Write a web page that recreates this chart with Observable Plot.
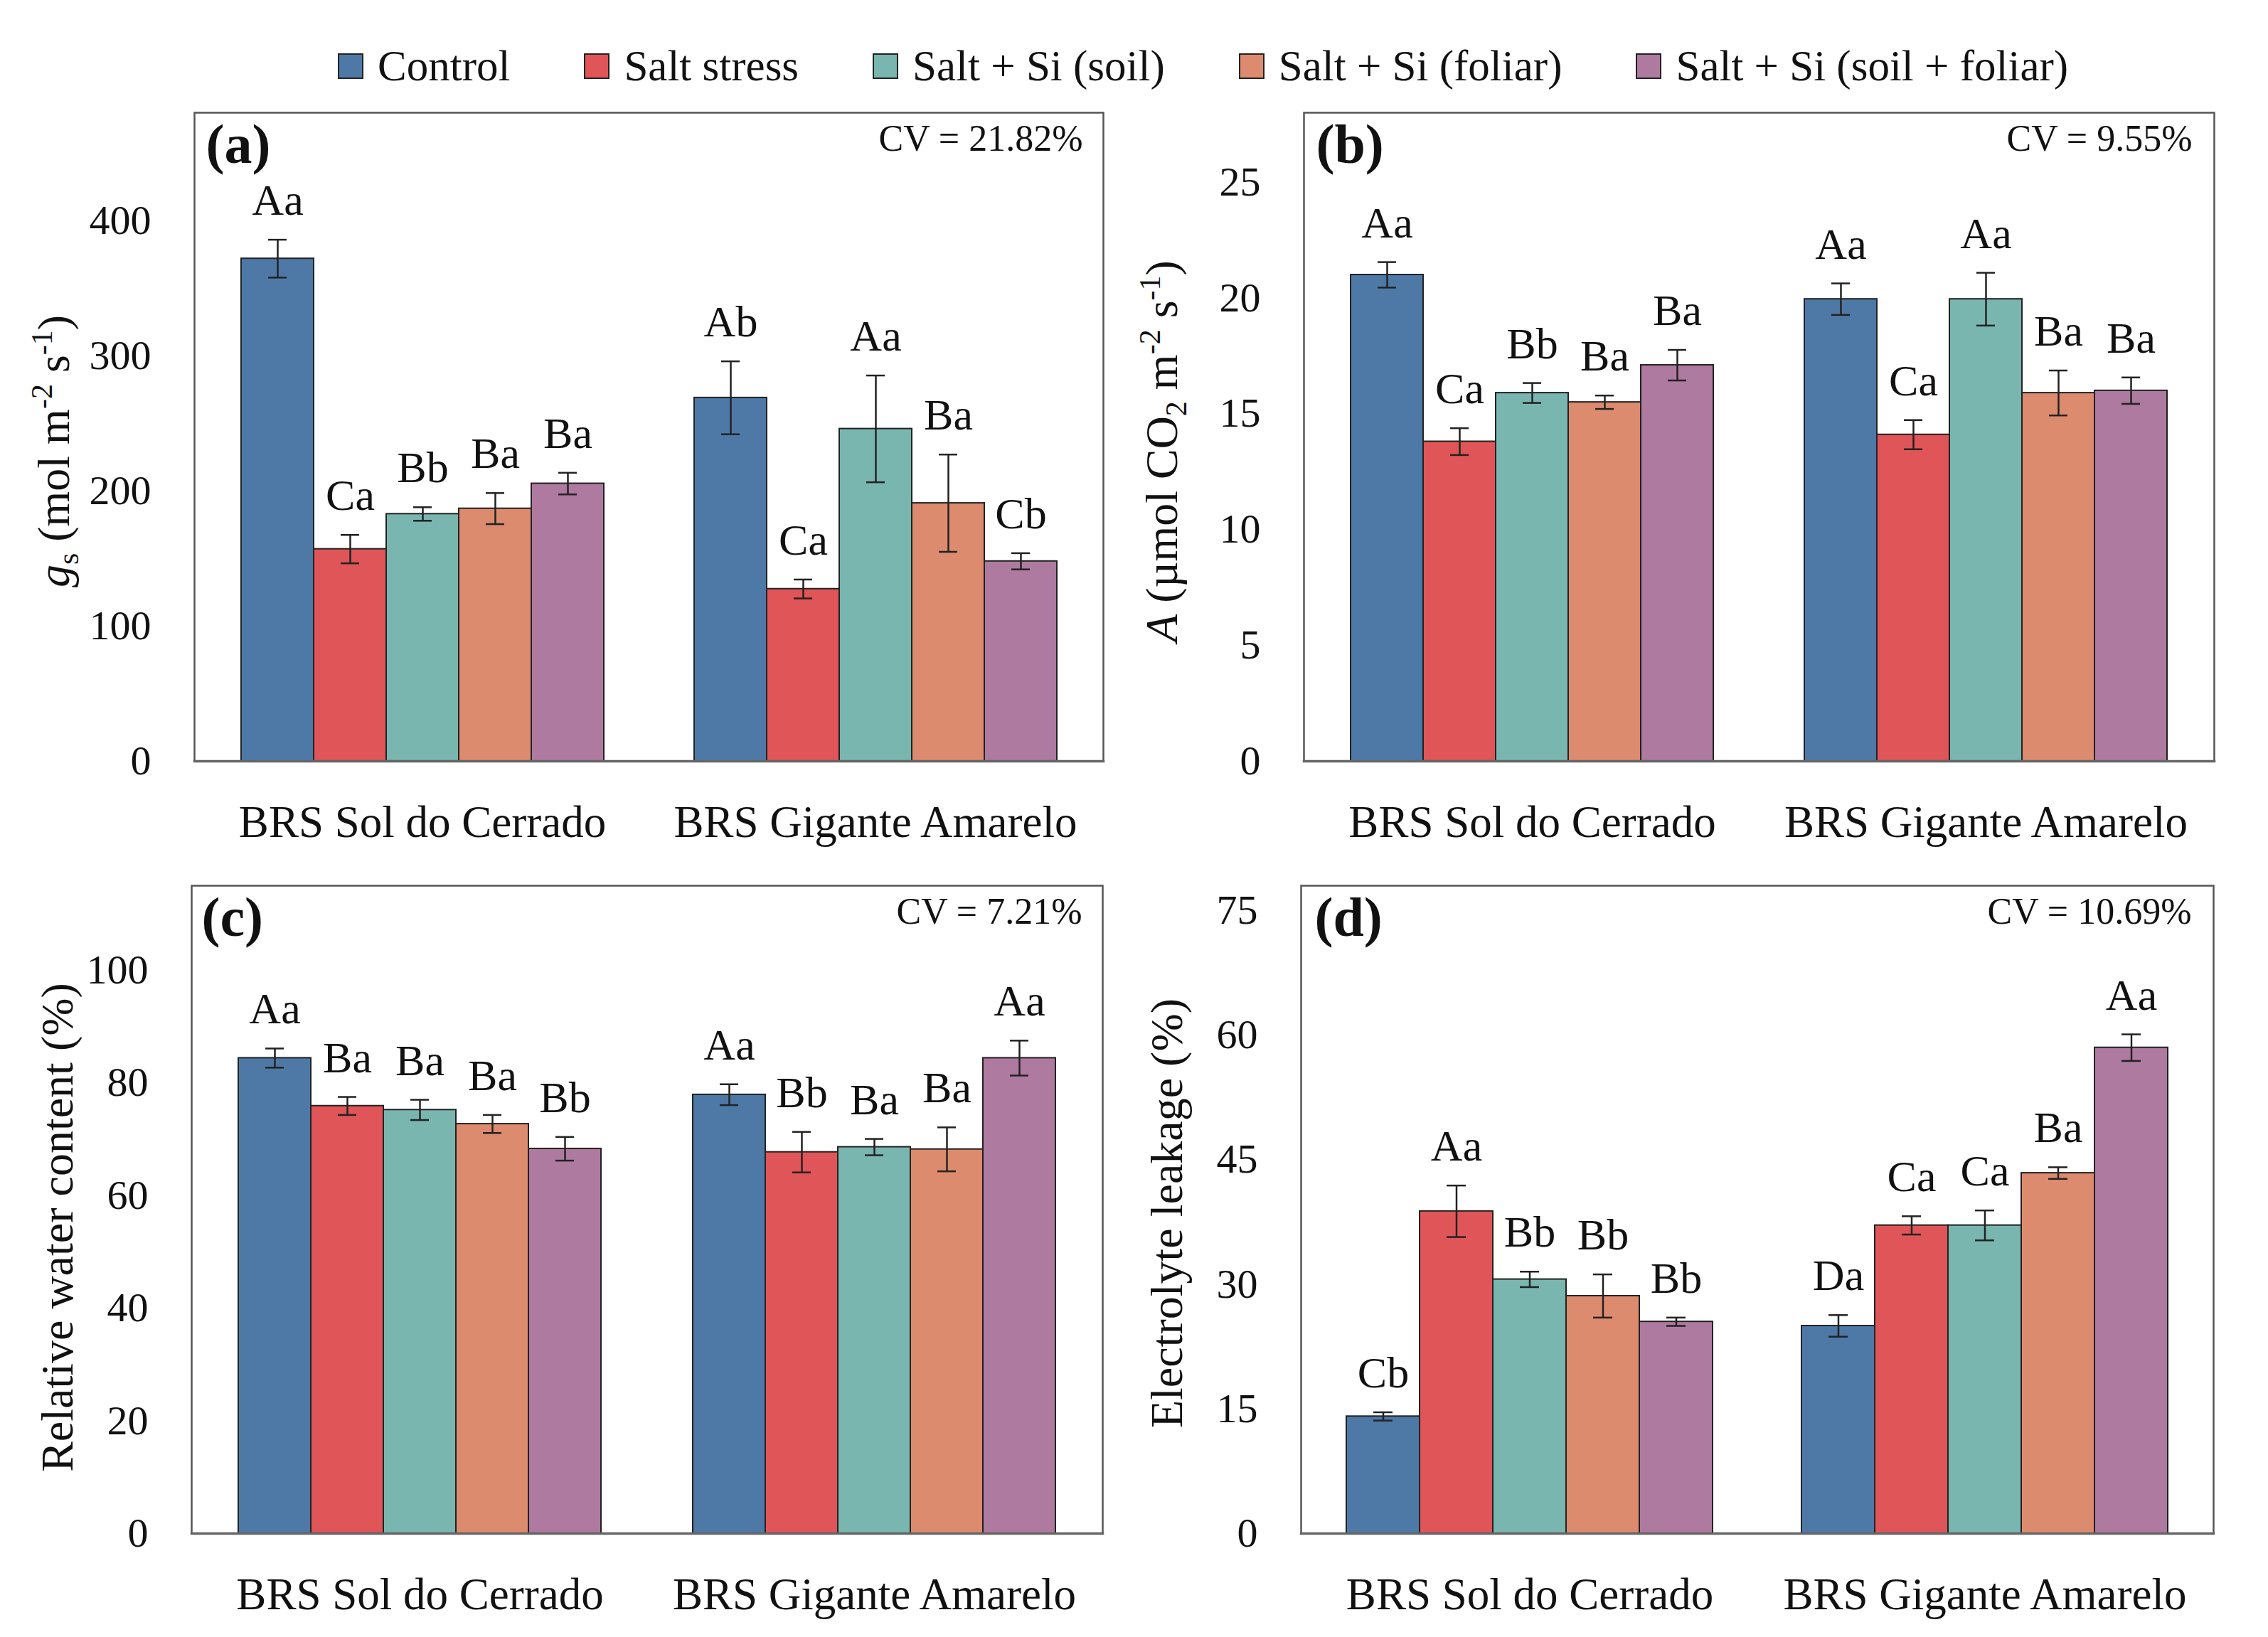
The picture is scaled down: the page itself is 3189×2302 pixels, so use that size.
<!DOCTYPE html>
<html>
<head>
<meta charset="utf-8">
<script src="https://cdn.jsdelivr.net/npm/d3@7"></script>
<script src="https://cdn.jsdelivr.net/npm/@observablehq/plot@0.6"></script>
<style>
  html, body { margin: 0; padding: 0; background: #fff; }
  #root { position: relative; width: 3189px; height: 2302px; background: #fff; font-family: "Liberation Serif", "DejaVu Serif", serif; color: #111; }
  #legend { position: absolute; left: 475px; top: 62px; display: flex; gap: 104px; align-items: center; font-size: 61px; line-height: 1; }
  .item { display: flex; align-items: center; gap: 20px; white-space: nowrap; }
  .sw { width: 36px; height: 36px; border: 2.5px solid #222; box-sizing: border-box; }
  .panel { position: absolute; }
</style>
</head>
<body>
<div id="root">
  <div id="legend"></div>
</div>
<script>
// ---------------- data ----------------
const cultivars = ["BRS Sol do Cerrado", "BRS Gigante Amarelo"];
const treatments = ["Control", "Salt stress", "Salt + Si (soil)", "Salt + Si (foliar)", "Salt + Si (soil + foliar)"];
const treatmentColors = ["#4E79A7", "#E05558", "#79B6AF", "#DD8B6E", "#AE7AA0"];

// (a) stomatal conductance, gs (mol m-2 s-1): 5 treatments x 2 cultivars
const gsMean = [372, 157, 183, 187, 205.5, 269, 127.5, 246, 191, 148];
const gsErr = [14, 10.5, 5, 11.5, 8, 27, 7, 39.5, 36, 6];
const gsLetters = ["Aa", "Ca", "Bb", "Ba", "Ba", "Ab", "Ca", "Aa", "Ba", "Cb"];
const gsTicks = [0, 100, 200, 300, 400];

// (b) net photosynthesis, A (umol CO2 m-2 s-1)
const aMean = [21.0, 13.8, 15.9, 15.5, 17.1, 19.95, 14.1, 19.95, 15.9, 16.0];
const aErr = [0.55, 0.58, 0.43, 0.29, 0.66, 0.68, 0.63, 1.14, 0.97, 0.57];
const aLetters = ["Aa", "Ca", "Bb", "Ba", "Ba", "Aa", "Ca", "Aa", "Ba", "Ba"];
const aTicks = [0, 5, 10, 15, 20, 25];

// (c) relative water content (%)
const rwcMean = [84.4, 75.9, 75.2, 72.7, 68.3, 77.9, 67.7, 68.6, 68.2, 84.4];
const rwcErr = [1.7, 1.6, 1.8, 1.6, 2.1, 1.85, 3.6, 1.45, 3.9, 3.1];
const rwcLetters = ["Aa", "Ba", "Ba", "Ba", "Bb", "Aa", "Bb", "Ba", "Ba", "Aa"];
const rwcTicks = [0, 20, 40, 60, 80, 100];

// (d) electrolyte leakage (%)
const elMean = [14.1, 38.8, 30.6, 28.6, 25.5, 25.0, 37.1, 37.1, 43.4, 58.5];
const elErr = [0.5, 3.1, 0.93, 2.6, 0.5, 1.3, 1.1, 1.8, 0.7, 1.6];
const elLetters = ["Cb", "Aa", "Bb", "Bb", "Bb", "Da", "Ca", "Ca", "Ba", "Aa"];
const elTicks = [0, 15, 30, 45, 60, 75];

// ---------------- legend ----------------
const legend = document.getElementById("legend");
treatments.forEach((t, i) => {
  const it = document.createElement("div");
  it.className = "item";
  const sw = document.createElement("div");
  sw.className = "sw";
  sw.style.background = treatmentColors[i];
  const tx = document.createElement("span");
  tx.textContent = t;
  it.appendChild(sw); it.appendChild(tx);
  legend.appendChild(it);
});

// ---------------- panels ----------------
const FONT = '"Liberation Serif", "DejaVu Serif", serif';
const OUTER = 64; // the outer band padding between the frame and the first/last bar group

function makePanel(cfg) {
  const rows = cfg.mean.map((m, i) => ({
    cultivar: cultivars[Math.floor(i / 5)],
    treatment: treatments[i % 5],
    mean: m,
    lo: m - cfg.err[i],
    hi: m + cfg.err[i],
    letter: cfg.letters[i]
  }));
  const svg = Plot.plot({
    width: cfg.width, height: cfg.height,
    marginLeft: cfg.ml, marginRight: cfg.mr, marginTop: cfg.mt, marginBottom: cfg.mb,
    style: {fontFamily: FONT, fontSize: "58px", color: "#111", background: "transparent", overflow: "visible"},
    fx: {domain: cultivars, paddingInner: 0.195, paddingOuter: 0.1, label: null, axis: "bottom", tickSize: 0, tickPadding: 62},
    x: {domain: treatments, padding: 0, axis: null},
    y: {domain: cfg.domain, ticks: cfg.ticks, tickSize: 0, tickPadding: 61 + OUTER, label: null},
    color: {domain: treatments, range: treatmentColors},
    marks: [
      Plot.barY(rows, {fx: "cultivar", x: "treatment", y: "mean", fill: "treatment", stroke: "#222", strokeWidth: 2}),
      Plot.ruleX(rows, {fx: "cultivar", x: "treatment", y1: "lo", y2: "hi", stroke: "#222", strokeWidth: 2.5}),
      Plot.tickY(rows, {fx: "cultivar", x: "treatment", y: "lo", stroke: "#222", strokeWidth: 2.5, insetLeft: 38, insetRight: 38}),
      Plot.tickY(rows, {fx: "cultivar", x: "treatment", y: "hi", stroke: "#222", strokeWidth: 2.5, insetLeft: 38, insetRight: 38}),
      Plot.text(rows, {fx: "cultivar", x: "treatment", y: "hi", text: "letter", lineAnchor: "bottom", dy: -35, fontSize: 62, fill: "#111"}),
      Plot.frame({facet: "super", stroke: "#555", strokeWidth: 2.5, insetLeft: -OUTER, insetRight: -OUTER}),
      Plot.frame({facet: "super", anchor: "bottom", stroke: "#666", strokeWidth: 3.5, insetLeft: -OUTER, insetRight: -OUTER}),
      Plot.text([cfg.tag], {facet: "super", frameAnchor: "top-left", textAnchor: "start", lineAnchor: "top", dx: cfg.tagDx, dy: 15, fontSize: 78, fontWeight: "bold", fill: "#111"}),
      Plot.text([cfg.cv], {facet: "super", frameAnchor: "top-right", textAnchor: "end", lineAnchor: "top", dx: cfg.cvDx, dy: 17, fontSize: 52, fill: "#111"}),
      Plot.text([cfg.label], {facet: "super", frameAnchor: "left", rotate: -90, textAnchor: "middle", lineAnchor: "top", dx: cfg.labelDx, dy: cfg.labelDy, fontSize: 64, fill: "#111"})
    ]
  });
  // larger category labels on the fx axis
  d3.select(svg).selectAll('[aria-label="fx-axis tick label"]').attr("font-size", 63)
    .selectAll("text").attr("font-size", 63);
  // rich formatting of the axis title (italics, sub/superscripts)
  if (cfg.labelHTML) {
    d3.select(svg).selectAll("text").filter(function () { return this.textContent === cfg.label; })
      .html(cfg.labelHTML);
  }
  svg.classList.add("panel");
  svg.style.left = cfg.left + "px";
  svg.style.top = cfg.top + "px";
  document.getElementById("root").appendChild(svg);
}

const SUP = (s) => `<tspan dy="-24" font-size="42">${s}</tspan><tspan dy="24"> </tspan>`;
const SUPEND = (s) => `<tspan dy="-24" font-size="42">${s}</tspan><tspan dy="24">)</tspan>`;
const SUB = (s, after) => `<tspan dy="13" font-size="42">${s}</tspan><tspan dy="-13">${after}</tspan>`;

makePanel({
  mean: gsMean, err: gsErr, letters: gsLetters, ticks: gsTicks, domain: [0, 480],
  tag: "(a)", cv: "CV = 21.82%",
  label: "gs (mol m-2 s-1)",
  labelHTML: `<tspan font-style="italic">g</tspan>${SUB("s", " (mol m")}${SUP("-2")}s${SUPEND("-1")}`,
  left: 0, top: 120, width: 1594, height: 1090, ml: 273, mr: 43, mt: 38, mb: 140,
  tagDx: -48, cvDx: 35, labelDx: -286, labelDy: 20
});
makePanel({
  mean: aMean, err: aErr, letters: aLetters, ticks: aTicks, domain: [0, 28],
  tag: "(b)", cv: "CV = 9.55%",
  label: "A (µmol CO2 m-2 s-1)",
  labelHTML: `<tspan font-style="italic">A</tspan> (µmol CO${SUB("2", " m")}${SUP("-2")}s${SUPEND("-1")}`,
  left: 1594, top: 120, width: 1595, height: 1090, ml: 239, mr: 76, mt: 38, mb: 140,
  tagDx: -47, cvDx: 33, labelDx: -288, labelDy: 20
});
makePanel({
  mean: rwcMean, err: rwcErr, letters: rwcLetters, ticks: rwcTicks, domain: [0, 115],
  tag: "(c)", cv: "CV = 7.21%",
  label: "Relative water content (%)",
  left: 0, top: 1210, width: 1594, height: 1092, ml: 268, mr: 43, mt: 35, mb: 146,
  tagDx: -50, cvDx: 35, labelDx: -277, labelDy: 25
});
makePanel({
  mean: elMean, err: elErr, letters: elLetters, ticks: elTicks, domain: [0, 78],
  tag: "(d)", cv: "CV = 10.69%",
  label: "Electrolyte leakage (%)",
  left: 1594, top: 1210, width: 1595, height: 1092, ml: 235, mr: 76, mt: 35, mb: 146,
  tagDx: -45, cvDx: 33, labelDx: -277, labelDy: 5
});
</script>
</body>
</html>
